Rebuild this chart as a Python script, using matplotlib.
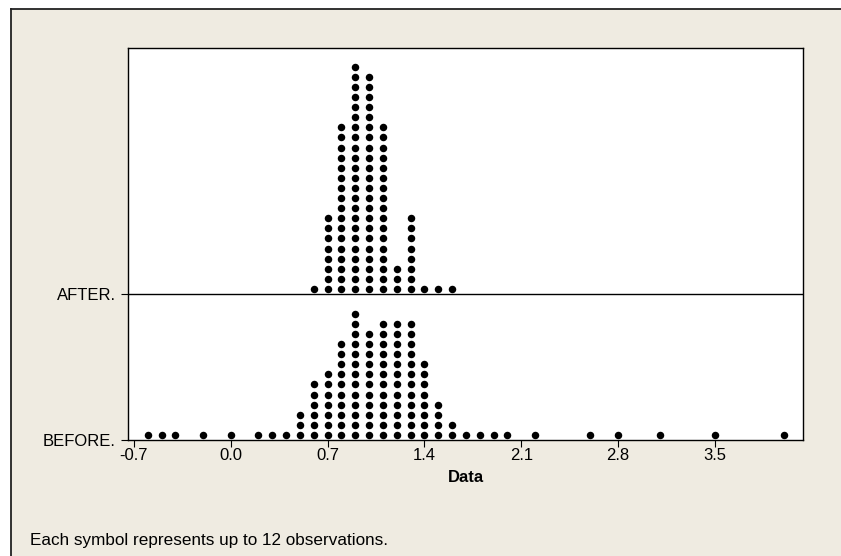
import matplotlib
matplotlib.use("Agg")
import matplotlib.pyplot as plt
from matplotlib.patches import Rectangle
from matplotlib.lines import Line2D

# ---- data (bin centre, number of symbols) ----
after_vals = [0.6, 0.7, 0.8, 0.9, 1.0, 1.1, 1.2, 1.3, 1.4, 1.5, 1.6]
after_counts = [1, 8, 17, 23, 22, 17, 3, 8, 1, 1, 1]

before_vals = [-0.6, -0.5, -0.4, -0.2, 0.0, 0.2, 0.3, 0.4, 0.5, 0.6, 0.7, 0.8,
               0.9, 1.0, 1.1, 1.2, 1.3, 1.4, 1.5, 1.6, 1.7, 1.8, 1.9, 2.0,
               2.2, 2.6, 2.8, 3.1, 3.5, 4.0]
before_counts = [1, 1, 1, 1, 1, 1, 1, 1, 3, 6, 7, 10,
                 13, 11, 12, 12, 12, 8, 4, 2, 1, 1, 1, 1,
                 1, 1, 1, 1, 1, 1]

groups = ["BEFORE.", "AFTER."]
xticks = [-0.7, 0.0, 0.7, 1.4, 2.1, 2.8, 3.5]
xlabel = "Data"
footnote = "Each symbol represents up to 12 observations."

plt.rcParams['font.family'] = ['Liberation Sans', 'DejaVu Sans']

W, H = 841, 556
fig = plt.figure(figsize=(W / 100, H / 100), dpi=100)
fig.patch.set_facecolor('white')

bg = '#efebe1'
# outer panel with border on left/top
fig.add_artist(Rectangle((10.5 / W, 0), 1, 1 - 9 / H, transform=fig.transFigure,
                         facecolor=bg, edgecolor='none', zorder=0))
fig.add_artist(Line2D([10.5 / W, 10.5 / W], [0, 1 - 9 / H], transform=fig.transFigure,
                      color='#222222', lw=1.3))
fig.add_artist(Line2D([10.5 / W, 1], [1 - 9 / H, 1 - 9 / H], transform=fig.transFigure,
                      color='#222222', lw=1.3))

left, right, top, bottom = 128, 803, 48, 440
ax = fig.add_axes([left / W, 1 - bottom / H, (right - left) / W, (bottom - top) / H])
ax.set_facecolor('white')

row = 10.1  # pixels per symbol row
ymax = (bottom - top) / row
sep = (bottom - 294) / row
base = [0.0, sep]
offset = 0.5

for b, vals, counts in [(base[0], before_vals, before_counts), (base[1], after_vals, after_counts)]:
    xs, ys = [], []
    for v, c in zip(vals, counts):
        for k in range(c):
            xs.append(v)
            ys.append(b + offset + k)
    ax.plot(xs, ys, 'o', color='black', markersize=5.4, markeredgewidth=0, clip_on=False)

ax.axhline(sep, color='black', lw=1.0)

px_per_unit = (715 - 134) / 4.2
zero_px = 134 + 0.7 * px_per_unit
ax.set_xlim((left - zero_px) / px_per_unit, (right - zero_px) / px_per_unit)
ax.set_ylim(0, ymax)

fs = 12
ax.set_xticks(xticks)
ax.set_xticklabels([f"{t:.1f}" for t in xticks])
ax.set_yticks(base)
ax.set_yticklabels(groups)
ax.tick_params(axis='both', direction='out', length=5, width=0.8, labelsize=fs, colors='black')
ax.tick_params(axis='x', pad=1.0)
ax.tick_params(axis='y', pad=4)
for s in ax.spines.values():
    s.set_linewidth(1.0)
    s.set_color('black')

ax.set_xlabel(xlabel, fontsize=fs, fontweight='bold', labelpad=5)

fig.text(30 / W, 1 - 541 / H, footnote, fontsize=12.3, ha='left', va='center')

fig.savefig("out.png", dpi=100, facecolor=fig.get_facecolor())
